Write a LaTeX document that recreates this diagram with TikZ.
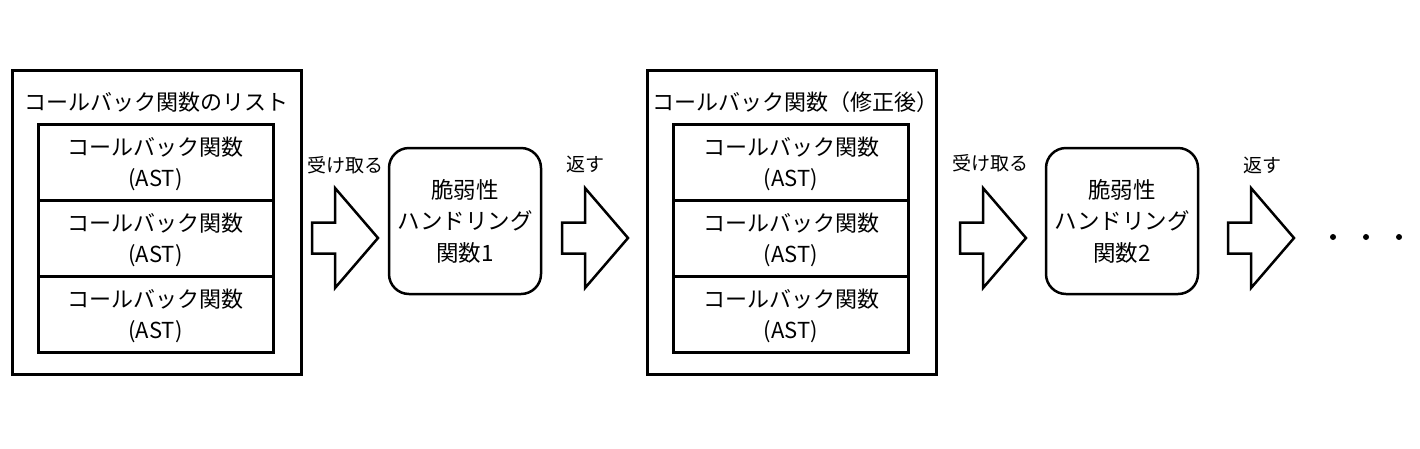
\documentclass[tikz,border=0pt]{standalone}
\usepackage{fontspec}
\setmainfont{Noto Sans CJK JP}
\begin{document}
\begin{tikzpicture}[x=1pt,y=-1pt,
  outerbox/.style={draw,line width=3pt,minimum width=289pt,minimum height=304pt,anchor=north west,inner sep=0pt},
  cbbox/.style={draw,line width=3pt,minimum width=235pt,minimum height=76pt,align=center,inner sep=0pt,font=\fontsize{22}{31}\selectfont},
  cbtext/.style={align=center,inner sep=0pt,font=\fontsize{22}{31}\selectfont},
  titletext/.style={font=\fontsize{22}{26}\selectfont,inner sep=0pt},
  handler/.style={draw,line width=2.5pt,rounded corners=20pt,minimum width=152pt,minimum height=146pt,align=center,inner sep=0pt,font=\fontsize{22.5}{31.5}\selectfont},
  lbl/.style={font=\fontsize{19}{22}\selectfont,inner sep=0pt},
  bigarrow/.pic={\draw[line width=2.5pt,line join=miter,fill=white]
     (0,-15.5) -- (23,-15.5) -- (23,-50) -- (66,0) -- (23,50) -- (23,15.5) -- (0,15.5) -- cycle;},
  dotmark/.style={circle,fill=black,inner sep=0pt,minimum size=6pt}
]
\useasboundingbox (0,0) rectangle (1420,448);

% first list
\node[outerbox] (list1) at (11,69) {};
\node[titletext] (t1) at (156,102) {コールバック関数のリスト};
\node[cbbox] (a1) at (155.5,162) {};
\node[cbbox] (a2) at (155.5,238) {};
\node[cbbox] (a3) at (155.5,314) {};
\node[cbtext] at ([yshift=-2pt]a1.center) {コールバック関数\\(AST)};
\node[cbtext] at ([yshift=-2pt]a2.center) {コールバック関数\\(AST)};
\node[cbtext] at ([yshift=-2pt]a3.center) {コールバック関数\\(AST)};

% arrow 1
\pic at (312,238) {bigarrow};
\node[lbl] (l1) at (345,165) {受け取る};

% handler 1
\node[handler] (h1) at (465,221) {脆弱性\\ハンドリング\\関数1};

% arrow 2
\pic at (562,238) {bigarrow};
\node[lbl] (l2) at (585,164) {返す};

% second list
\node[outerbox] (list2) at (646,69) {};
\node[titletext] (t2) at (795,102) {コールバック関数（修正後）};
\node[cbbox] (b1) at (791,162) {};
\node[cbbox] (b2) at (791,238) {};
\node[cbbox] (b3) at (791,314) {};
\node[cbtext] at ([yshift=-2pt]b1.center) {コールバック関数\\(AST)};
\node[cbtext] at ([yshift=-2pt]b2.center) {コールバック関数\\(AST)};
\node[cbtext] at ([yshift=-2pt]b3.center) {コールバック関数\\(AST)};

% arrow 3
\pic at (960,238) {bigarrow};
\node[lbl] (l3) at (990,163) {受け取る};

% handler 2
\node[handler] (h2) at (1122,221) {脆弱性\\ハンドリング\\関数2};

% arrow 4
\pic at (1228,238) {bigarrow};
\node[lbl] (l4) at (1262,165) {返す};

% dots
\node[dotmark] (d1) at (1333,237) {};
\node[dotmark] (d2) at (1366,237) {};
\node[dotmark] (d3) at (1399,237) {};
\end{tikzpicture}
\end{document}
